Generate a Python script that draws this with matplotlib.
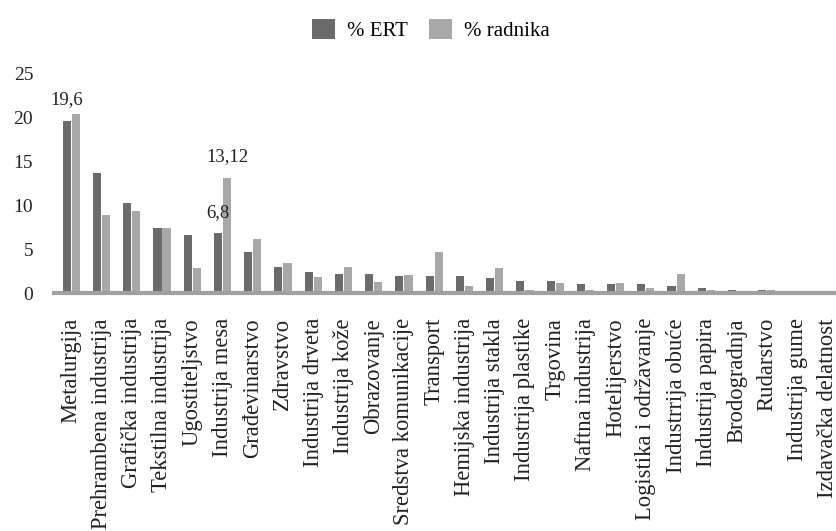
import matplotlib.pyplot as plt
import numpy as np

plt.rcParams['font.family'] = ['Liberation Serif', 'DejaVu Serif']

# kategorije i vrednosti (procenti)
categories = ["Metalurgija", "Prehrambena industrija", "Grafička industrija",
              "Tekstilna industrija", "Ugostiteljstvo", "Industrija mesa",
              "Građevinarstvo", "Zdravstvo", "Industrija drveta", "Industrija kože",
              "Obrazovanje", "Sredstva komunikacije", "Transport",
              "Hemijska industrija", "Industrija stakla", "Industrija plastike",
              "Trgovina", "Naftna industrija", "Hotelijerstvo",
              "Logistika i održavanje", "Industrrija obuće", "Industrija papira",
              "Brodogradnja", "Rudarstvo", "Industrija gume", "Izdavačka delatnost"]
ert     = [19.6, 13.6, 10.2, 7.4, 6.6, 6.8, 4.7, 3.0, 2.4, 2.2, 2.2, 1.9, 1.9,
           1.9, 1.7, 1.4, 1.4, 1.0, 1.0, 1.0, 0.8, 0.6, 0.3, 0.3, 0.2, 0.1]
radnika = [20.4, 8.9, 9.3, 7.4, 2.8, 13.12, 6.2, 3.4, 1.8, 3.0, 1.3, 2.1, 4.7,
           0.8, 2.8, 0.4, 1.2, 0.3, 1.2, 0.6, 2.2, 0.4, 0.2, 0.3, 0.1, 0.1]

# oznake iznad pojedinih stubova: (indeks, serija, tekst)
notes = [(0, "ert", "19,6"), (5, "radnika", "13,12"), (5, "ert", "6,8")]

c_ert = "#6b6b6b"
c_rad = "#a8a8a8"
txt = "#222222"

fig = plt.figure(figsize=(8.37, 5.31), dpi=100)
ax = fig.add_axes([0.0645, 0.448, 0.9355, 0.4145])

x = np.arange(len(categories))
w = 0.27
ax.bar(x - 0.15, ert, w, color=c_ert, label="% ERT")
ax.bar(x + 0.15, radnika, w, color=c_rad, label="% radnika")

for i, s, t in notes:
    v = ert[i] if s == "ert" else radnika[i]
    xi = x[i] - 0.15 if s == "ert" else x[i] + 0.15
    ax.annotate(t, (xi, v), xytext=(0, 15), textcoords="offset points",
                ha="center", va="center", fontsize=13.5, color=txt)

ax.set_ylim(0, 25)
ax.set_xlim(-0.57, len(categories) - 0.68)
ax.set_yticks([0, 5, 10, 15, 20, 25])
ax.set_xticks(x)
ax.set_xticklabels(categories, rotation=90, fontsize=16.3, color=txt)
ax.tick_params(axis="y", length=0, pad=15, labelsize=14, labelcolor=txt)
ax.tick_params(axis="x", length=0, pad=18)
for sp in ["top", "right", "left"]:
    ax.spines[sp].set_visible(False)
ax.spines["bottom"].set_color("#a0a0a0")
ax.spines["bottom"].set_linewidth(3)

fig.legend(loc="upper center", bbox_to_anchor=(0.515, 1.0), ncol=2, frameon=False,
           fontsize=15, handlelength=1.1, handleheight=1.1, columnspacing=1.0,
           handletextpad=0.6)

fig.savefig("out.png", dpi=100)
